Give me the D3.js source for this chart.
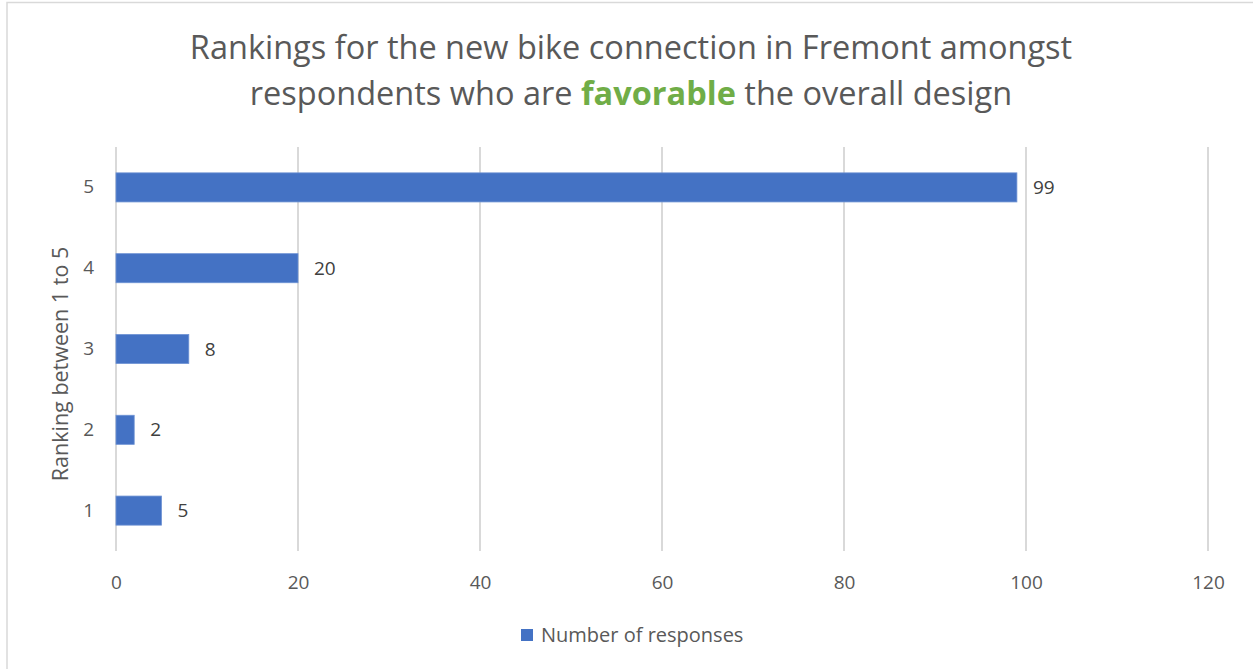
<!DOCTYPE html>
<html>
<head>
<meta charset="utf-8">
<script src="https://cdn.jsdelivr.net/npm/d3@7"></script>
<style>
  body { margin: 0; background: #fff; }
  svg { display: block; }
</style>
</head>
<body>
<svg id="chart"></svg>
<script>
// data
const rankings = ['5', '4', '3', '2', '1'];
const responses = [99, 20, 8, 2, 5];
const xTicks = [0, 20, 40, 60, 80, 100, 120];
const seriesName = 'Number of responses';

const width = 1253, height = 669;
const font = "'Open Sans', 'Noto Sans', sans-serif";
const barColor = '#4472c4';
const textGray = '#595959';

let svg = d3.select('#chart')
    .attr('width', width)
    .attr('height', height)
    .style('font-family', font);

// outer chart border
svg.append('rect')
    .attr('x', 7).attr('y', 2.5)
    .attr('width', width + 20).attr('height', height + 20)
    .attr('fill', 'none')
    .attr('stroke', '#d9d9d9')
    .attr('stroke-width', 1.5);

let margin = {left: 116, right: 45, top: 147, bottom: 118};

let x = d3.scaleLinear()
    .domain([0, 120])
    .range([margin.left, width - margin.right]);

let y = d3.scaleBand()
    .domain(rankings)
    .range([margin.top, height - margin.bottom])
    .paddingInner(0.64)
    .paddingOuter(0.32);

// title
let title = svg.append('text')
    .attr('text-anchor', 'middle')
    .attr('fill', textGray)
    .style('font-size', '32.5px');

title.append('tspan')
    .attr('x', 631).attr('y', 59)
    .text('Rankings for the new bike connection in Fremont amongst');

let line2 = title.append('tspan')
    .attr('x', 631).attr('y', 105);
line2.append('tspan').text('respondents who are ');
line2.append('tspan').text('favorable')
    .attr('fill', '#70ad47')
    .style('font-weight', 'bold');
line2.append('tspan').text(' the overall design');

// grid lines
svg.append('g')
    .selectAll('line')
    .data(xTicks)
    .enter()
    .append('line')
    .attr('x1', d => x(d))
    .attr('x2', d => x(d))
    .attr('y1', margin.top)
    .attr('y2', height - margin.bottom)
    .attr('stroke', '#d9d9d9')
    .attr('stroke-width', 2);

// x axis labels
let xAxis = svg.append('g')
    .attr('transform', `translate(0,${height - margin.bottom + 14})`)
    .call(d3.axisBottom(x).tickValues(xTicks).tickSize(0).tickPadding(11));
xAxis.select('.domain').remove();
xAxis.selectAll('text')
    .attr('fill', textGray)
    .style('font-family', font)
    .style('font-size', '19px');

// y axis labels
let yAxis = svg.append('g')
    .attr('transform', `translate(${margin.left - 22},0)`)
    .call(d3.axisLeft(y).tickSize(0).tickPadding(0));
yAxis.select('.domain').remove();
yAxis.selectAll('text')
    .attr('fill', textGray)
    .style('font-family', font)
    .style('font-size', '19px');

// y axis title
svg.append('text')
    .attr('transform', 'translate(68,364) rotate(-90)')
    .attr('text-anchor', 'middle')
    .attr('fill', textGray)
    .style('font-size', '21.5px')
    .text('Ranking between 1 to 5');

// bars
svg.append('g')
    .selectAll('rect')
    .data(responses)
    .enter()
    .append('rect')
    .attr('x', x(0))
    .attr('y', (d, i) => y(rankings[i]))
    .attr('width', d => x(d) - x(0))
    .attr('height', y.bandwidth())
    .attr('fill', barColor)
    .attr('stroke', '#6f93d4')
    .attr('stroke-width', 0.8);

// data labels
svg.append('g')
    .selectAll('text')
    .data(responses)
    .enter()
    .append('text')
    .attr('x', d => x(d) + 16)
    .attr('y', (d, i) => y(rankings[i]) + y.bandwidth() / 2)
    .attr('dy', '0.35em')
    .attr('fill', '#404040')
    .style('font-size', '19px')
    .text(d => d);

// legend
let legend = svg.append('g')
    .attr('transform', 'translate(521,629)');
legend.append('rect')
    .attr('width', 12).attr('height', 12)
    .attr('fill', barColor);
legend.append('text')
    .attr('x', 20).attr('y', 6)
    .attr('dy', '0.35em')
    .attr('fill', textGray)
    .style('font-size', '20px')
    .text(seriesName);
</script>
</body>
</html>
